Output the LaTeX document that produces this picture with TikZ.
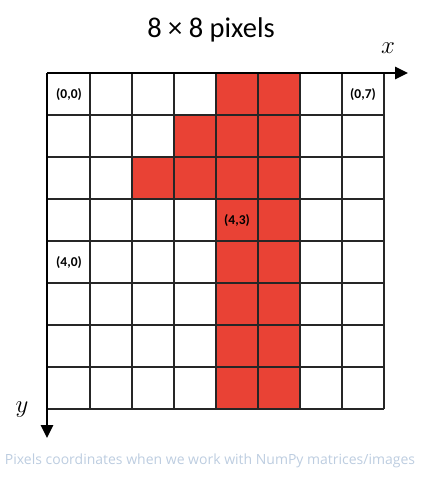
\documentclass[tikz,border=0pt]{standalone}
\usepackage{fontspec}
\setmainfont{Carlito}
\newfontfamily\capfont{Open Sans}
\usetikzlibrary{arrows.meta}
\definecolor{pixred}{HTML}{E94235}
\definecolor{capgray}{HTML}{BDCDE0}
\tikzset{
  cellred/.style={fill=pixred},
  gridline/.style={draw=black!85,line width=1.1pt},
  axisline/.style={line width=2.6pt,-{Triangle[length=13pt,width=12pt]}},
  coordlabel/.style={font=\bfseries\fontsize{13.5}{15}\selectfont,anchor=center},
}
\begin{document}
\begin{tikzpicture}[x=1pt,y=-1pt]
\useasboundingbox (0,0) rectangle (422,479);
% red pixels
\foreach \r in {0,...,7}{
  \fill[cellred] (216,73+42*\r) rectangle (300,115+42*\r);
}
\fill[cellred] (174,115) rectangle (216,157);
\fill[cellred] (132,157) rectangle (216,199);
% grid
\foreach \i in {1,...,8}{
  \draw[gridline] (48+42*\i,73) -- (48+42*\i,409);
  \draw[gridline] (48,73+42*\i) -- (384,73+42*\i);
}
% axes
\coordinate (o) at (47,73);
\coordinate (xend) at (408,73);
\coordinate (yend) at (47,438);
\draw[axisline] (o) -- (xend);
\draw[axisline] (o) -- (yend);
\node (xlab) at (388,48) {\fontsize{25}{28}\selectfont$x$};
\node (ylab) at (22,410) {\fontsize{25}{28}\selectfont$y$};
% title
\node (title) at (211,30) {\fontsize{28.5}{32}\selectfont 8 × 8 pixels};
% labels
\node[coordlabel] (l00) at (69,95) {(0,0)};
\node[coordlabel] (l07) at (363,95) {(0,7)};
\node[coordlabel] (l43) at (237,221) {(4,3)};
\node[coordlabel] (l40) at (69,263) {(4,0)};
% caption
\node[text=capgray,font=\capfont\fontsize{14}{16}\selectfont] (cap) at (210,461) {Pixels coordinates when we work with NumPy matrices/images};
\end{tikzpicture}
\end{document}
